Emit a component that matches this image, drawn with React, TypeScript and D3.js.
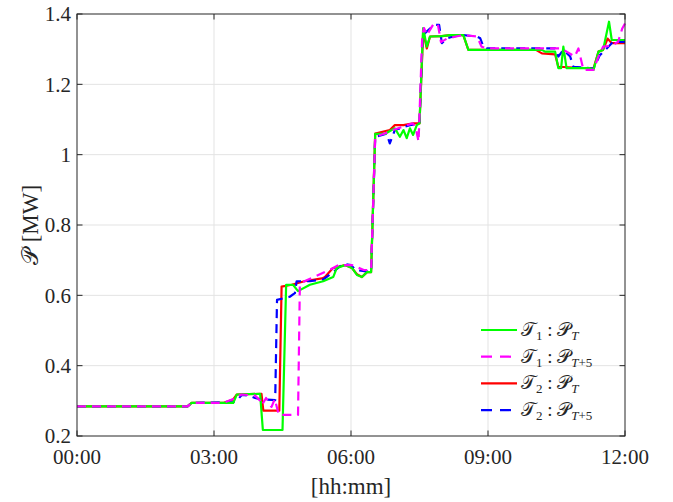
import { useEffect, useRef } from 'react';
import * as d3 from 'd3';

type Pt = [number, number];

// time in hours, power in MW
const t1PT: Pt[] = [
  [0, 0.284], [2.42, 0.284], [2.51, 0.294], [3.42, 0.294], [3.5, 0.318], [4.01, 0.32],
  [4.07, 0.217], [4.5, 0.217], [4.58, 0.63], [4.73, 0.63], [4.84, 0.612], [5.1, 0.63],
  [5.39, 0.64], [5.61, 0.652], [5.69, 0.678], [5.87, 0.686], [6.02, 0.678], [6.13, 0.658],
  [6.24, 0.652], [6.35, 0.666], [6.44, 0.666], [6.53, 1.059], [6.74, 1.059], [6.89, 1.07],
  [6.96, 1.075], [7.07, 1.051], [7.15, 1.07], [7.22, 1.047], [7.29, 1.075], [7.36, 1.056],
  [7.44, 1.084], [7.5, 1.089], [7.58, 1.36], [7.66, 1.307], [7.73, 1.336], [7.99, 1.337],
  [8.17, 1.34], [8.46, 1.34], [8.57, 1.298], [10.18, 1.298], [10.25, 1.293], [10.47, 1.293],
  [10.54, 1.246], [10.6, 1.246], [10.65, 1.307], [10.72, 1.246], [11.23, 1.246], [11.31, 1.241],
  [11.42, 1.293], [11.52, 1.298], [11.65, 1.378], [11.71, 1.326], [12, 1.326],
];

const t1PT5: Pt[] = [
  [0, 0.284], [2.42, 0.284], [2.51, 0.294], [3.2, 0.294], [3.42, 0.305], [3.6, 0.318],
  [3.9, 0.315], [4.01, 0.3], [4.05, 0.288], [4.14, 0.308], [4.26, 0.283], [4.33, 0.305],
  [4.42, 0.26], [4.84, 0.26], [4.88, 0.63], [4.98, 0.64], [5.6, 0.677], [5.72, 0.686],
  [6.02, 0.686], [6.28, 0.672], [6.44, 0.672], [6.53, 1.051], [6.74, 1.06], [6.92, 1.07],
  [7.15, 1.08], [7.35, 1.089], [7.41, 1.08], [7.48, 1.037], [7.56, 1.34], [7.6, 1.36],
  [7.66, 1.34], [7.8, 1.37], [7.9, 1.372], [7.97, 1.32], [8.1, 1.33], [8.3, 1.336],
  [8.46, 1.34], [8.76, 1.336], [8.86, 1.307], [8.98, 1.302], [10.6, 1.302], [10.72, 1.293],
  [10.9, 1.279], [10.98, 1.302], [11.09, 1.241], [11.31, 1.241], [11.42, 1.279], [11.52, 1.307],
  [11.71, 1.31], [11.85, 1.321], [11.94, 1.359], [12, 1.373],
];

const t2PT: Pt[] = [
  [0, 0.284], [2.42, 0.284], [2.51, 0.294], [3.2, 0.294], [3.42, 0.304], [3.5, 0.318],
  [4.04, 0.32], [4.08, 0.272], [4.43, 0.272], [4.48, 0.625], [4.7, 0.63], [4.98, 0.64],
  [5.36, 0.648], [5.42, 0.651], [5.6, 0.677], [5.87, 0.686], [6.02, 0.678], [6.13, 0.66],
  [6.24, 0.652], [6.35, 0.666], [6.44, 0.666], [6.53, 1.06], [6.85, 1.07], [6.96, 1.084],
  [7.15, 1.084], [7.36, 1.089], [7.5, 1.089], [7.58, 1.35], [7.66, 1.302], [7.73, 1.336],
  [7.99, 1.337], [8.17, 1.34], [8.46, 1.34], [8.57, 1.298], [10.05, 1.298], [10.18, 1.288],
  [10.47, 1.285], [10.54, 1.25], [11.31, 1.245], [11.42, 1.293], [11.52, 1.298], [11.62, 1.33],
  [11.71, 1.317], [12, 1.317],
];

const t2PT5: Pt[] = [
  [0, 0.284], [2.42, 0.284], [2.51, 0.294], [3.42, 0.296], [3.53, 0.305], [3.61, 0.317],
  [3.79, 0.314], [3.9, 0.308], [4.01, 0.305], [4.34, 0.302], [4.38, 0.587], [4.66, 0.596],
  [4.77, 0.606], [4.81, 0.64], [5.1, 0.64], [5.39, 0.645], [5.6, 0.665], [5.83, 0.69],
  [6.0, 0.686], [6.1, 0.672], [6.44, 0.666], [6.53, 1.05], [6.78, 1.06], [6.85, 1.032],
  [6.96, 1.07], [7.29, 1.084], [7.5, 1.089], [7.57, 1.34], [7.82, 1.369], [7.93, 1.369],
  [7.99, 1.317], [8.1, 1.331], [8.24, 1.336], [8.46, 1.34], [8.76, 1.336], [8.83, 1.331],
  [8.9, 1.307], [8.98, 1.302], [10.47, 1.302], [10.54, 1.279], [10.65, 1.298], [10.8, 1.279],
  [10.87, 1.25], [11.31, 1.245], [11.45, 1.283], [11.6, 1.302], [11.74, 1.321], [12, 1.321],
];

const xTicks = [0, 3, 6, 9, 12];
const xTickLabels = ['00:00', '03:00', '06:00', '09:00', '12:00'];
const yTicks = [0.2, 0.4, 0.6, 0.8, 1, 1.2, 1.4];

// drawing order: red, blue, green, magenta
const series = [
  { data: t2PT, color: '#ff0000', dash: null, sub: '2', plus: false },
  { data: t2PT5, color: '#0000ff', dash: '9,6', sub: '2', plus: true },
  { data: t1PT, color: '#00ff00', dash: null, sub: '1', plus: false },
  { data: t1PT5, color: '#ff00ff', dash: '9,6', sub: '1', plus: true },
];
const legendOrder = [2, 3, 0, 1];

const W = 673;
const H = 502;
const margin = { top: 14, right: 48, bottom: 66, left: 77 };
const axisColor = '#262626';
const font = '"Liberation Serif", "DejaVu Serif", serif';

export default function App() {
  const ref = useRef<SVGSVGElement>(null);

  useEffect(() => {
    const svg = d3.select(ref.current);
    svg.selectAll('*').remove();

    const x = d3.scaleLinear().domain([0, 12]).range([margin.left, W - margin.right]);
    const y = d3.scaleLinear().domain([0.2, 1.4]).range([H - margin.bottom, margin.top]);
    const [x0, x1] = x.range();
    const [y0, y1] = y.range();

    svg.append('rect').attr('width', W).attr('height', H).attr('fill', '#fff');

    // grid
    const grid = svg.append('g').attr('stroke', '#e3e3e3').attr('stroke-width', 1);
    xTicks.slice(1, -1).forEach((t) => {
      grid.append('line').attr('x1', x(t)).attr('x2', x(t)).attr('y1', y0).attr('y2', y1);
    });
    yTicks.slice(1, -1).forEach((t) => {
      grid.append('line').attr('x1', x0).attr('x2', x1).attr('y1', y(t)).attr('y2', y(t));
    });

    // lines
    const line = d3
      .line<Pt>()
      .x((d) => x(d[0]))
      .y((d) => y(d[1]));

    series.forEach((s) => {
      svg
        .append('path')
        .attr('d', line(s.data))
        .attr('fill', 'none')
        .attr('stroke', s.color)
        .attr('stroke-width', 2.2)
        .attr('stroke-linejoin', 'round')
        .attr('stroke-dasharray', s.dash);
    });

    // box and ticks
    const ax = svg.append('g').attr('stroke', axisColor).attr('stroke-width', 1).attr('fill', 'none');
    ax.append('rect').attr('x', x0).attr('y', y1).attr('width', x1 - x0).attr('height', y0 - y1);
    const tl = 5.5;
    xTicks.forEach((t) => {
      ax.append('line').attr('x1', x(t)).attr('x2', x(t)).attr('y1', y0).attr('y2', y0 - tl);
      ax.append('line').attr('x1', x(t)).attr('x2', x(t)).attr('y1', y1).attr('y2', y1 + tl);
    });
    yTicks.forEach((t) => {
      ax.append('line').attr('x1', x0).attr('x2', x0 + tl).attr('y1', y(t)).attr('y2', y(t));
      ax.append('line').attr('x1', x1).attr('x2', x1 - tl).attr('y1', y(t)).attr('y2', y(t));
    });

    // tick labels
    const labels = svg.append('g').attr('fill', axisColor).attr('font-family', font);
    xTicks.forEach((t, i) => {
      labels
        .append('text')
        .attr('x', x(t))
        .attr('y', y0 + 28)
        .attr('text-anchor', 'middle')
        .attr('font-size', 21)
        .text(xTickLabels[i]);
    });
    yTicks.forEach((t) => {
      labels
        .append('text')
        .attr('x', x0 - 6)
        .attr('y', y(t))
        .attr('dy', '0.35em')
        .attr('text-anchor', 'end')
        .attr('font-size', 21)
        .text(d3.format('~g')(t));
    });

    // axis titles
    labels
      .append('text')
      .attr('x', (x0 + x1) / 2)
      .attr('y', y0 + 58)
      .attr('text-anchor', 'middle')
      .attr('font-size', 23)
      .text('[hh:mm]');
    labels
      .append('text')
      .attr('transform', `translate(38,${(y0 + y1) / 2}) rotate(-90)`)
      .attr('text-anchor', 'middle')
      .attr('font-size', 23)
      .text('𝒫 [MW]');

    // legend
    const lg = svg.append('g').attr('font-family', font).attr('fill', axisColor);
    legendOrder.forEach((idx, i) => {
      const s = series[idx];
      const ly = 330 + i * 26.7;
      lg.append('line')
        .attr('x1', 481)
        .attr('x2', 517)
        .attr('y1', ly)
        .attr('y2', ly)
        .attr('stroke', s.color)
        .attr('stroke-width', 2.2)
        .attr('stroke-dasharray', s.dash ? '11,8' : null);
      const txt = lg.append('text').attr('x', 521).attr('y', ly + 6).attr('font-size', 19);
      txt.append('tspan').text('𝒯');
      txt.append('tspan').attr('font-size', 13).attr('dy', 4).text(s.sub);
      txt.append('tspan').attr('dy', -4).text(' : 𝒫');
      txt.append('tspan').attr('font-size', 13).attr('dy', 4).attr('font-style', 'italic').text(s.plus ? 'T' : 'T');
      if (s.plus) txt.append('tspan').attr('font-size', 13).text('+5');
    });
  }, []);

  return (
    <svg
      ref={ref}
      width={W}
      height={H}
      style={{ position: 'absolute', left: 0, top: 0 }}
    ></svg>
  );
}
